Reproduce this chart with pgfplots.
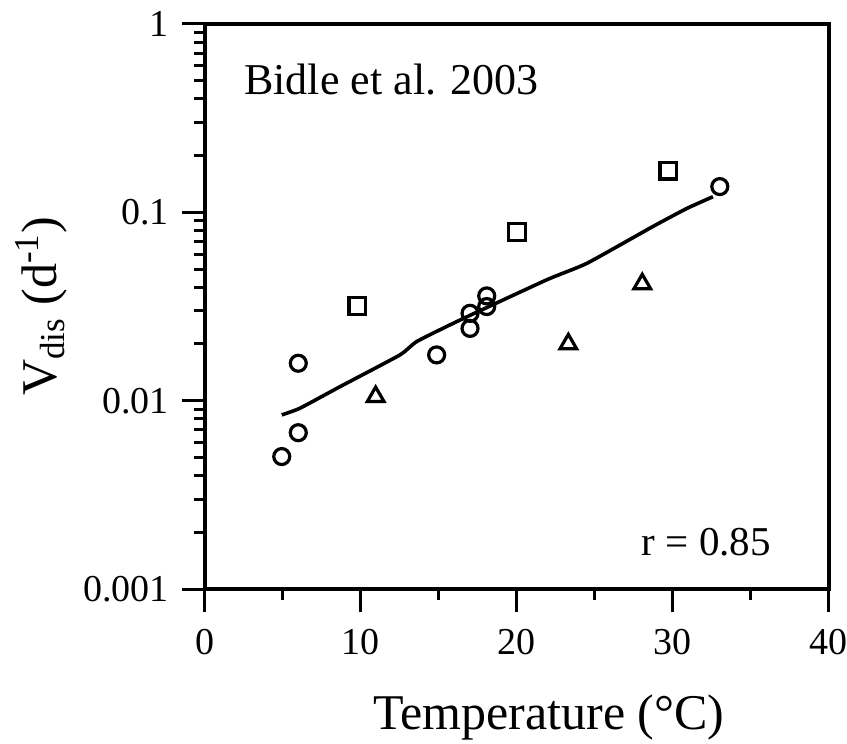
\documentclass[border=0pt]{standalone}
\usepackage{fontspec}
\setmainfont{Liberation Serif}
\usepackage{pgfplots}
\pgfplotsset{compat=1.18}

\begin{document}
\begin{tikzpicture}
\useasboundingbox (-102.5pt,-77.5pt) rectangle (321pt,294.5pt);
\begin{axis}[
  scale only axis,
  width=312pt, height=282.5pt,
  xmin=0, xmax=40,
  ymode=log, ymin=0.001, ymax=1,
  xtick={0,10,20,30,40},
  minor x tick num=1,
  ytick={0.001,0.01,0.1,1},
  yticklabels={0.001,0.01,0.1,1},
  xtick pos=left, ytick pos=left,
  tick align=outside,
  major tick length=11.5pt,
  minor tick length=5.5pt,
  every tick/.style={line width=1.5pt, black},
  axis line style={line width=1.6pt},
  /pgf/number format/assume math mode=true,
  tick label style={font=\fontsize{19pt}{21pt}\selectfont},
  yticklabel style={xshift=-3pt},
  xticklabel style={yshift=-5pt},
  xlabel={Temperature (°C)},
  ylabel={V\textsubscript{dis} (d\textsuperscript{-1})},
  label style={font=\fontsize{25pt}{28pt}\selectfont},
  xlabel style={at={(axis description cs:0.551,-0.228)}, anchor=center},
  ylabel style={at={(axis description cs:-0.262,0.5)}, anchor=center},
  clip=false,
]
% fitted trend
\addplot[black, line width=1.8pt, smooth, tension=0.3] coordinates {
  (4.92,0.0084) (6.09,0.00912) (8.65,0.01186) (12.5,0.0175)
  (13.57,0.0206) (16.35,0.0268) (21.9,0.0438) (24.5,0.0537)
  (28.7,0.084) (30.9,0.105) (32.56,0.121)
};
% circles
\addplot[only marks, mark=o, mark size=4pt, line width=1.6pt, black] coordinates {
  (4.92,0.00505) (5.98,0.00676) (5.98,0.0158) (14.85,0.0175)
  (16.99,0.0242) (16.99,0.0291) (18.06,0.0316) (18.06,0.0360)
  (33.0,0.137)
};
% squares
\addplot[only marks, mark=square, mark size=4.2pt, line width=1.6pt, black] coordinates {
  (9.77,0.0318) (20.0,0.0789) (29.7,0.1667)
};
% triangles
\addplot[only marks, mark=triangle, mark size=4.8pt, line width=1.6pt, black] coordinates {
  (10.94,0.0105) (23.29,0.0200) (28.03,0.0417)
};
\node[anchor=base west, font=\fontsize{22pt}{26pt}\selectfont, inner sep=0pt]
  at (axis cs:2.5,0.42) {Bidle et al. 2003};
\node[anchor=base east, font=\fontsize{20.5pt}{24pt}\selectfont, inner sep=0pt]
  at (axis cs:36.3,0.00151) {r = 0.85};
\end{axis}
\end{tikzpicture}
\end{document}
